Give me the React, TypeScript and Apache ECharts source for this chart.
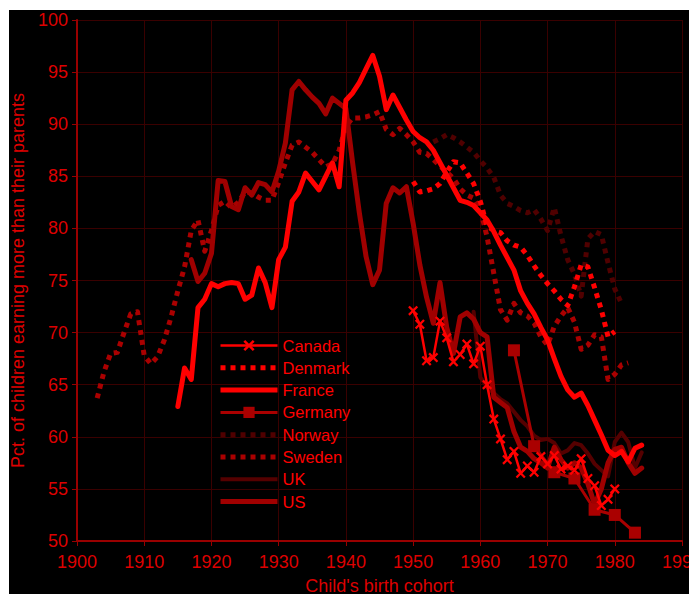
import React, { useEffect, useRef } from "react";
import * as echarts from "echarts";

const xTicks = { min: 1900, max: 1990, interval: 10 };
const yTicks = { min: 50, max: 100, interval: 5 };

const countries = ["Canada", "Denmark", "France", "Germany", "Norway", "Sweden", "UK", "US"];
const markerCountries = ["Canada", "Germany"];

const canadaStart = 1950;
const canadaValues = [
  72.1, 70.8, 67.3, 67.6, 71.1, 69.5, 67.2, 67.9, 68.9, 67.0,
  68.7, 65.0, 61.7, 59.8, 57.8, 58.6, 56.5, 57.2, 56.6, 58.1,
  57.4, 58.2, 56.9, 57.2, 56.8, 57.9, 56.0, 55.3, 53.4, 54.0,
  55.0,
];

const denmarkStart = 1950;
const denmarkValues = [
  84.5, 83.5, 83.6, 83.8, 84.3, 85.4, 86.4, 86.3, 85.3, 84.3,
  82.6, 80.2, 79.8, 79.6, 78.8, 78.4, 78.2, 77.4, 76.4, 75.5,
  74.7, 74.0, 73.2, 72.6, 74.4, 76.5, 76.3, 74.3, 72.2, 69.6,
  70.1,
];

const franceStart = 1915;
const franceValues = [
  62.9, 66.6, 65.5, 72.4, 73.2, 74.7, 74.4, 74.7, 74.8, 74.7,
  73.2, 73.6, 76.2, 74.8, 72.4, 77.0, 78.2, 82.6, 83.5, 85.3,
  84.5, 83.7, 85.0, 86.3, 84.0, 92.3, 93.0, 94.0, 95.3, 96.6,
  94.6, 91.4, 92.8, 91.6, 90.4, 89.3, 88.7, 88.3, 87.5, 86.3,
  85.1, 83.9, 82.7, 82.5, 82.2, 81.5, 80.8, 79.7, 78.4, 77.2,
  76.0, 74.0, 72.8, 71.8, 70.5, 69.3, 67.5, 65.8, 64.5, 63.8,
  64.2, 63.0, 61.6, 60.2, 58.7, 58.2, 58.6, 57.6, 58.9, 59.2,
];

const germanyYears = [1965, 1968, 1971, 1974, 1977, 1980, 1983];
const germanyValues = [68.3, 59.1, 56.6, 56.0, 53.0, 52.5, 50.8];

const norwayStart = 1953;
const norwayValues = [
  88.3, 88.6, 89.0, 88.7, 88.3, 87.8, 87.3, 86.5, 85.8, 84.9,
  83.2, 82.4, 82.1, 81.7, 81.5, 81.8, 80.9, 79.8, 82.0, 79.3,
  77.0, 75.6, 73.5, 79.0, 79.7, 79.4, 76.7, 74.2, 72.8,
];

const swedenStart = 1903;
const swedenValues = [
  63.7, 66.2, 68.0, 68.1, 70.0, 71.8, 72.0, 67.8, 67.0, 67.7,
  69.3, 71.5, 74.0, 76.3, 79.8, 80.8, 77.8, 79.8, 82.2, 82.6,
  82.0, 82.5, 83.5, 83.4, 83.0, 82.7, 82.7, 84.4, 86.3, 88.0,
  88.3, 87.8, 87.3, 86.6, 85.9, 86.2, 87.5, 89.8, 90.6, 90.6,
  90.7, 90.9, 91.2, 89.5, 89.0, 89.6, 89.0, 88.3, 87.3, 87.2,
  86.6, 86.0, 85.4, 84.8, 83.8, 83.2, 82.9, 81.8, 79.2, 75.7,
  72.2, 71.2, 72.8, 71.9, 71.6, 70.9, 69.6, 68.8, 70.6, 71.6,
  72.4, 71.0, 68.4, 68.8, 69.8, 69.6, 65.5, 66.0, 66.9, 67.1,
];

const ukStart = 1959;
const ukValues = [
  72.0, 65.7, 64.8, 64.2, 63.6, 63.2, 62.4, 61.6, 61.0, 60.1,
  59.7, 59.8, 59.4, 58.4, 58.7, 59.4, 59.2, 58.4, 57.4, 56.8,
  56.2, 59.5, 60.4, 59.5, 57.0, 58.5,
];

const usStart = 1917;
const usValues = [
  77.0, 74.9, 75.7, 77.6, 84.6, 84.5, 82.1, 81.8, 83.9, 83.2,
  84.4, 84.2, 83.5, 85.5, 88.2, 93.3, 94.1, 93.3, 92.6, 92.0,
  91.0, 92.5, 92.0, 91.5, 86.3, 81.5, 77.3, 74.6, 76.0, 82.4,
  83.9, 83.4, 84.0, 80.5, 76.5, 73.4, 70.9, 74.8, 70.5, 68.0,
  71.5, 71.9, 71.3, 70.0, 69.6, 63.8, 63.3, 62.8, 60.5, 59.0,
  58.6, 57.9, 57.5, 57.0, 59.0, 57.8, 57.0, 57.5, 57.0, 55.5,
  53.5, 55.0, 57.5, 58.8, 59.0, 57.5, 56.5, 57.0,
];

const fromStart = (start: number, vals: number[]) => vals.map((v, i) => [start + i, v]);

const X_SYMBOL =
  "path://M0,1.6L1.6,0L5,3.4L8.4,0L10,1.6L6.6,5L10,8.4L8.4,10L5,6.6L1.6,10L0,8.4L3.4,5Z";

const FONT = "'Liberation Sans', Arial, Helvetica, sans-serif";

const styleOf: Record<string, { color: string; width: number; type: string }> = {
  Canada: { color: "#ff0000", width: 2.5, type: "solid" },
  Denmark: { color: "#ff0000", width: 5, type: "dotted" },
  France: { color: "#ff0000", width: 5, type: "solid" },
  Germany: { color: "#aa0000", width: 3, type: "solid" },
  Norway: { color: "#500000", width: 5, type: "dotted" },
  Sweden: { color: "#aa0000", width: 5, type: "dotted" },
  UK: { color: "#550000", width: 4, type: "solid" },
  US: { color: "#a00000", width: 5, type: "solid" },
};

export default function App() {
  const ref = useRef<HTMLDivElement>(null);

  useEffect(() => {
    if (!ref.current) return;
    const chart = echarts.init(ref.current, undefined, { renderer: "svg" });

    const lineSeries = (name: string, data: number[][], extra: any = {}) => {
      const s = styleOf[name];
      return {
        name,
        type: "line",
        data,
        symbol: "none",
        color: s.color,
        lineStyle: {
          color: s.color,
          width: s.width,
          type: s.type,
          cap: s.type === "dotted" ? "butt" : "round",
          join: "round",
        },
        itemStyle: { color: s.color },
        ...extra,
      };
    };

    chart.setOption({
      animation: false,
      backgroundColor: "#000000",
      textStyle: { fontFamily: FONT },
      grid: { left: 68, right: 15, top: 10, bottom: 55, containLabel: false, outerBoundsMode: "none" },
      legend: {
        data: countries.map((c) => {
          const s = styleOf[c];
          const lineStyle = { width: s.width, type: s.type, color: s.color, cap: "butt" };
          return markerCountries.includes(c)
            ? { name: c, lineStyle }
            : {
                name: c,
                lineStyle,
                itemStyle: { color: "rgba(0,0,0,0)", borderColor: "rgba(0,0,0,0)", borderWidth: 0, opacity: 0 },
              };
        }),
        orient: "vertical",
        left: 209,
        top: 327,
        padding: 0,
        itemWidth: 57,
        itemHeight: 14,
        itemGap: 5.3,
        selectedMode: false,
        textStyle: { color: "#ff0000", fontSize: 16.5, fontFamily: FONT },
      },
      xAxis: {
        type: "value",
        min: xTicks.min,
        max: xTicks.max,
        interval: xTicks.interval,
        name: "Child's birth cohort",
        nameLocation: "middle",
        nameGap: 36,
        nameTextStyle: { color: "#dd0000", fontSize: 18, fontFamily: FONT },
        axisLine: { show: true, onZero: false, lineStyle: { color: "#990000", width: 2 } },
        axisTick: { show: true, length: 5, lineStyle: { color: "#990000" } },
        axisLabel: {
          color: "#dd0000",
          fontSize: 18,
          margin: 12,
          fontFamily: FONT,
          formatter: (v: number) => String(v),
        },
        splitLine: { show: true, lineStyle: { color: "#3a0000", width: 1 } },
      },
      yAxis: {
        type: "value",
        min: yTicks.min,
        max: yTicks.max,
        interval: yTicks.interval,
        name: "Pct. of children earning more than their parents",
        nameLocation: "middle",
        nameGap: 48,
        nameTextStyle: { color: "#dd0000", fontSize: 18, fontFamily: FONT },
        axisLine: { show: true, lineStyle: { color: "#990000", width: 2 } },
        axisTick: { show: true, length: 5, lineStyle: { color: "#990000" } },
        axisLabel: { color: "#dd0000", fontSize: 18, margin: 9, fontFamily: FONT },
        splitLine: { show: true, lineStyle: { color: "#3a0000", width: 1 } },
      },
      series: [
        lineSeries("Norway", fromStart(norwayStart, norwayValues)),
        lineSeries("Sweden", fromStart(swedenStart, swedenValues)),
        lineSeries("UK", fromStart(ukStart, ukValues)),
        lineSeries("US", fromStart(usStart, usValues)),
        lineSeries("Denmark", fromStart(denmarkStart, denmarkValues)),
        lineSeries("France", fromStart(franceStart, franceValues)),
        lineSeries(
          "Germany",
          germanyYears.map((y, i) => [y, germanyValues[i]]),
          { symbol: "rect", symbolSize: 12, showSymbol: true }
        ),
        lineSeries("Canada", fromStart(canadaStart, canadaValues), {
          symbol: X_SYMBOL,
          symbolSize: 10,
          showSymbol: true,
        }),
      ],
    });

    return () => chart.dispose();
  }, []);

  return (
    <div
      ref={ref}
      style={{ width: 688, height: 586, position: "relative", left: 1, top: 2 }}
    />
  );
}
